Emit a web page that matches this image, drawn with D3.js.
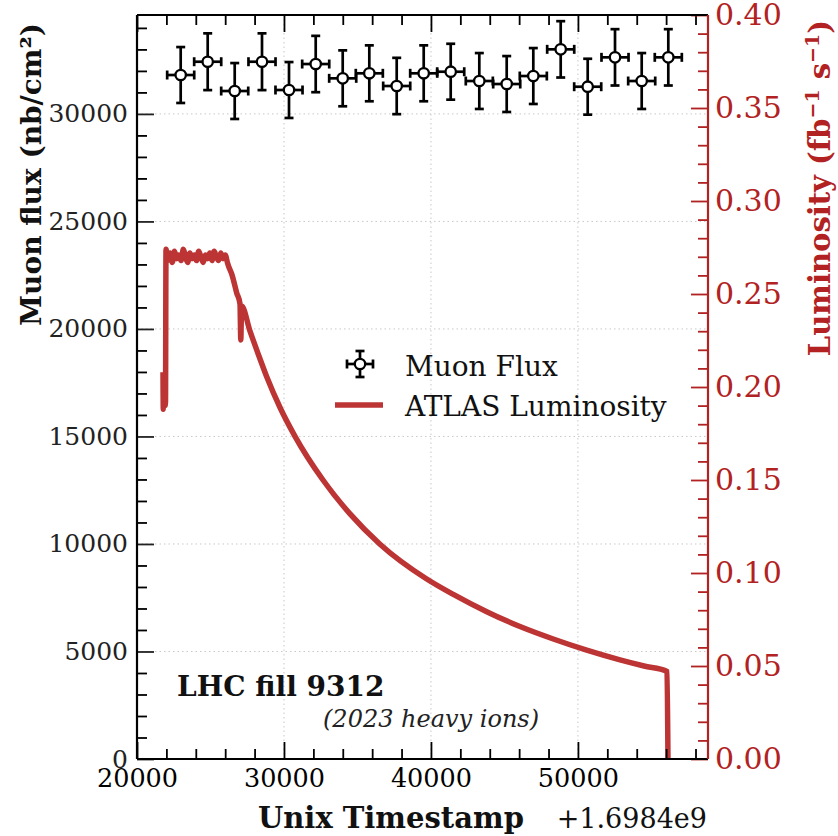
<!DOCTYPE html>
<html><head><meta charset="utf-8">
<script src="https://cdn.jsdelivr.net/npm/d3@7"></script>
<style>
body{margin:0;background:#fff;}
svg text{font-family:"DejaVu Serif",serif;}
</style></head>
<body><svg id="c" width="838" height="836"></svg>
<script>
// Muon flux measurements (time offset from 1.6984e9 s, flux nb/cm^2)
const fluxTime = [22973,24810,26648,28505,30342,32159,33996,35806,37670,39507,41344,43290,45154,46964,48828,50665,52523,54339,56149];
const fluxValue = [31809,32427,31065,32427,31112,32320,31655,31888,31298,31888,31962,31530,31390,31762,33003,31265,32631,31530,32631];
const fluxErr = [1300,1320,1300,1320,1300,1310,1300,1300,1310,1300,1300,1300,1300,1300,1310,1300,1310,1300,1310];
const timeErr = 920;

// ATLAS luminosity (time offset, fb^-1 s^-1)
const lumiTime = [21769,21790,21837,21905,21940,21973,22100,22250,22400,22550,22700,22850,23000,23150,23300,23450,23600,23750,23900,24050,24200,24350,24500,24650,24800,24950,25100,25250,25400,25550,25700,25850,26000,26150,
  26192,26464,26784,27008,27062,27117,27689,28234,28825,29730,30750,32655,34493,36534,39712,41521,43794,46057,48323,50596,52862,54500,56038,56060,56126];
const lumiValue = [0.208,0.188,0.196,0.190,0.192,0.274,0.268,0.272,0.267,0.273,0.269,0.271,0.268,0.274,0.270,0.267,0.272,0.269,0.271,0.268,0.273,0.270,0.267,0.271,0.269,0.272,0.268,0.273,0.270,0.268,0.272,0.269,0.271,0.267,
  0.2658,0.2603,0.2506,0.2447,0.2253,0.2436,0.2300,0.2180,0.2055,0.1890,0.1735,0.1500,0.1318,0.1155,0.0968,0.0885,0.0792,0.0712,0.0645,0.0585,0.0533,0.0500,0.0472,0.0471,0.0];

const xTicks = [20000,30000,40000,50000];
const yTicks = [0,5000,10000,15000,20000,25000,30000];
const y2Ticks = [0,0.05,0.10,0.15,0.20,0.25,0.30,0.35,0.40];

const L=137, R=708, T=15, B=759;
const red = "#b22222", lineRed = "#bc3434";
const svg = d3.select("#c");

const x = d3.scaleLinear().domain([20000,58850]).range([L,R]);
const y = d3.scaleLinear().domain([0,34600]).range([B,T]);
const y2 = d3.scaleLinear().domain([0,0.40]).range([B,T]);

// grid
const g = svg.append("g");
g.selectAll(".gx").data(xTicks.slice(1)).enter().append("line")
  .attr("x1",d=>x(d)).attr("x2",d=>x(d)).attr("y1",T).attr("y2",B)
  .attr("stroke","#c8c8c8").attr("stroke-width",1).attr("stroke-dasharray","1.5,3");
g.selectAll(".gy").data(yTicks.slice(1)).enter().append("line")
  .attr("y1",d=>y(d)).attr("y2",d=>y(d)).attr("x1",L).attr("x2",R)
  .attr("stroke","#c8c8c8").attr("stroke-width",1).attr("stroke-dasharray","1.5,3");

// luminosity line
const lumData = lumiTime.map((t,i)=>[t,lumiValue[i]]);
svg.append("path").datum(lumData)
  .attr("d", d3.line().curve(d3.curveMonotoneX).x(d=>x(d[0])).y(d=>y2(d[1])))
  .attr("fill","none").attr("stroke",lineRed).attr("stroke-width",5.5)
  .attr("stroke-linejoin","round");

// error bars
const fd = fluxTime.map((t,i)=>({t, v:fluxValue[i], e:fluxErr[i]}));
const eb = svg.append("g").attr("stroke","#000").attr("stroke-width",2.7);
fd.forEach(d=>{
  const cx=x(d.t), cy=y(d.v), cap=4.5;
  eb.append("line").attr("x1",cx).attr("x2",cx).attr("y1",y(d.v-d.e)).attr("y2",y(d.v+d.e));
  eb.append("line").attr("y1",cy).attr("y2",cy).attr("x1",x(d.t-timeErr)).attr("x2",x(d.t+timeErr));
  eb.append("line").attr("x1",cx-cap).attr("x2",cx+cap).attr("y1",y(d.v-d.e)).attr("y2",y(d.v-d.e));
  eb.append("line").attr("x1",cx-cap).attr("x2",cx+cap).attr("y1",y(d.v+d.e)).attr("y2",y(d.v+d.e));
  eb.append("line").attr("x1",x(d.t-timeErr)).attr("x2",x(d.t-timeErr)).attr("y1",cy-cap).attr("y2",cy+cap);
  eb.append("line").attr("x1",x(d.t+timeErr)).attr("x2",x(d.t+timeErr)).attr("y1",cy-cap).attr("y2",cy+cap);
});
svg.append("g").selectAll("circle").data(fd).enter().append("circle")
  .attr("cx",d=>x(d.t)).attr("cy",d=>y(d.v)).attr("r",5.2)
  .attr("fill","#fff").attr("stroke","#000").attr("stroke-width",2.3);

// axes
function minors(lo,hi,step){const a=[];for(let v=lo;v<=hi+1e-9;v+=step)a.push(+v.toFixed(6));return a;}
const xMinor = minors(20000,58850,2000).filter(v=>v%10000!==0);
const yMinor = minors(0,34600,1000).filter(v=>v%5000!==0);
const y2Minor = minors(0,0.40,0.01).filter(v=>Math.abs(Math.round(v*20)-v*20)>1e-6);

function styleAxis(sel,color,fs){
  sel.select(".domain").remove();
  sel.selectAll(".tick line").attr("stroke",color).attr("stroke-width",1.8);
  sel.selectAll(".tick text").attr("fill",color).attr("font-size",fs).attr("font-family","DejaVu Serif");
}
// bottom
let a = svg.append("g").attr("transform",`translate(0,${B})`)
  .call(d3.axisBottom(x).tickValues(xTicks).tickSize(-17).tickPadding(10).tickFormat(d3.format("d")));
styleAxis(a,"#000","25.5px");
a = svg.append("g").attr("transform",`translate(0,${B})`)
  .call(d3.axisBottom(x).tickValues(xMinor).tickSize(-10).tickFormat(""));
styleAxis(a,"#000","0px");
// top
a = svg.append("g").attr("transform",`translate(0,${T})`)
  .call(d3.axisTop(x).tickValues(xTicks).tickSize(-17).tickFormat(""));
styleAxis(a,"#000","0px");
a = svg.append("g").attr("transform",`translate(0,${T})`)
  .call(d3.axisTop(x).tickValues(xMinor).tickSize(-10).tickFormat(""));
styleAxis(a,"#000","0px");
// left
a = svg.append("g").attr("transform",`translate(${L},0)`)
  .call(d3.axisLeft(y).tickValues(yTicks).tickSize(-17).tickPadding(9).tickFormat(d3.format("d")));
styleAxis(a,"#222","25px");
a = svg.append("g").attr("transform",`translate(${L},0)`)
  .call(d3.axisLeft(y).tickValues(yMinor).tickSize(-10).tickFormat(""));
styleAxis(a,"#000","0px");
// right
a = svg.append("g").attr("transform",`translate(${R},0)`)
  .call(d3.axisRight(y2).tickValues(y2Ticks).tickSize(-17).tickPadding(7).tickFormat(d3.format(".2f")));
styleAxis(a,red,"30px");
a = svg.append("g").attr("transform",`translate(${R},0)`)
  .call(d3.axisRight(y2).tickValues(y2Minor).tickSize(-10).tickFormat(""));
styleAxis(a,red,"0px");

// spines
svg.append("line").attr("x1",L).attr("x2",R).attr("y1",T).attr("y2",T).attr("stroke","#000").attr("stroke-width",2.2);
svg.append("line").attr("x1",L).attr("x2",R).attr("y1",B).attr("y2",B).attr("stroke","#000").attr("stroke-width",2.2);
svg.append("line").attr("x1",L).attr("x2",L).attr("y1",T).attr("y2",B).attr("stroke","#000").attr("stroke-width",2.2);
svg.append("line").attr("x1",R).attr("x2",R).attr("y1",T).attr("y2",B).attr("stroke",red).attr("stroke-width",2.2);

// axis labels
svg.append("text").attr("transform","translate(41,23) rotate(-90)").attr("text-anchor","end")
  .attr("font-size","28px").attr("font-weight","bold").attr("fill","#111")
  .html('Muon flux (nb/cm²)');
svg.append("text").attr("transform","translate(830,20) rotate(-90)").attr("text-anchor","end")
  .attr("font-size","29px").attr("font-weight","bold").attr("fill",red)
  .html('Luminosity (fb<tspan dy="-11" font-size="19px">−1</tspan><tspan dy="11"> s</tspan><tspan dy="-11" font-size="19px">−1</tspan><tspan dy="11">)</tspan>');
svg.append("text").attr("x",258).attr("y",828).attr("font-size","29px").attr("font-weight","bold").attr("fill","#111")
  .text("Unix Timestamp");
svg.append("text").attr("x",707).attr("y",828).attr("text-anchor","end").attr("font-size","27px").attr("fill","#111")
  .text("+1.6984e9");

// annotations
svg.append("text").attr("x",177).attr("y",696).attr("font-size","28px").attr("font-weight","bold").attr("fill","#111").text("LHC fill 9312");
svg.append("text").attr("x",323).attr("y",727).attr("font-size","24px").attr("font-style","italic").attr("fill","#222").text("(2023 heavy ions)");

// legend
const lg = svg.append("g");
const mx=360, my=364;
lg.append("line").attr("x1",mx).attr("x2",mx).attr("y1",my-13).attr("y2",my+13).attr("stroke","#000").attr("stroke-width",2.7);
lg.append("line").attr("x1",mx-13).attr("x2",mx+13).attr("y1",my).attr("y2",my).attr("stroke","#000").attr("stroke-width",2.7);
[[-4.5,-13,4.5,-13],[-4.5,13,4.5,13],[-13,-4.5,-13,4.5],[13,-4.5,13,4.5]].forEach(c=>
  lg.append("line").attr("x1",mx+c[0]).attr("y1",my+c[1]).attr("x2",mx+c[2]).attr("y2",my+c[3]).attr("stroke","#000").attr("stroke-width",2.7));
lg.append("circle").attr("cx",mx).attr("cy",my).attr("r",5.2).attr("fill","#fff").attr("stroke","#000").attr("stroke-width",2.3);
lg.append("line").attr("x1",335).attr("x2",383).attr("y1",405).attr("y2",405).attr("stroke",lineRed).attr("stroke-width",5.5);
lg.append("text").attr("x",405).attr("y",376).attr("font-size","28px").attr("fill","#111").text("Muon Flux");
lg.append("text").attr("x",405).attr("y",416).attr("font-size","28px").attr("fill","#111").text("ATLAS Luminosity");
</script></body></html>
